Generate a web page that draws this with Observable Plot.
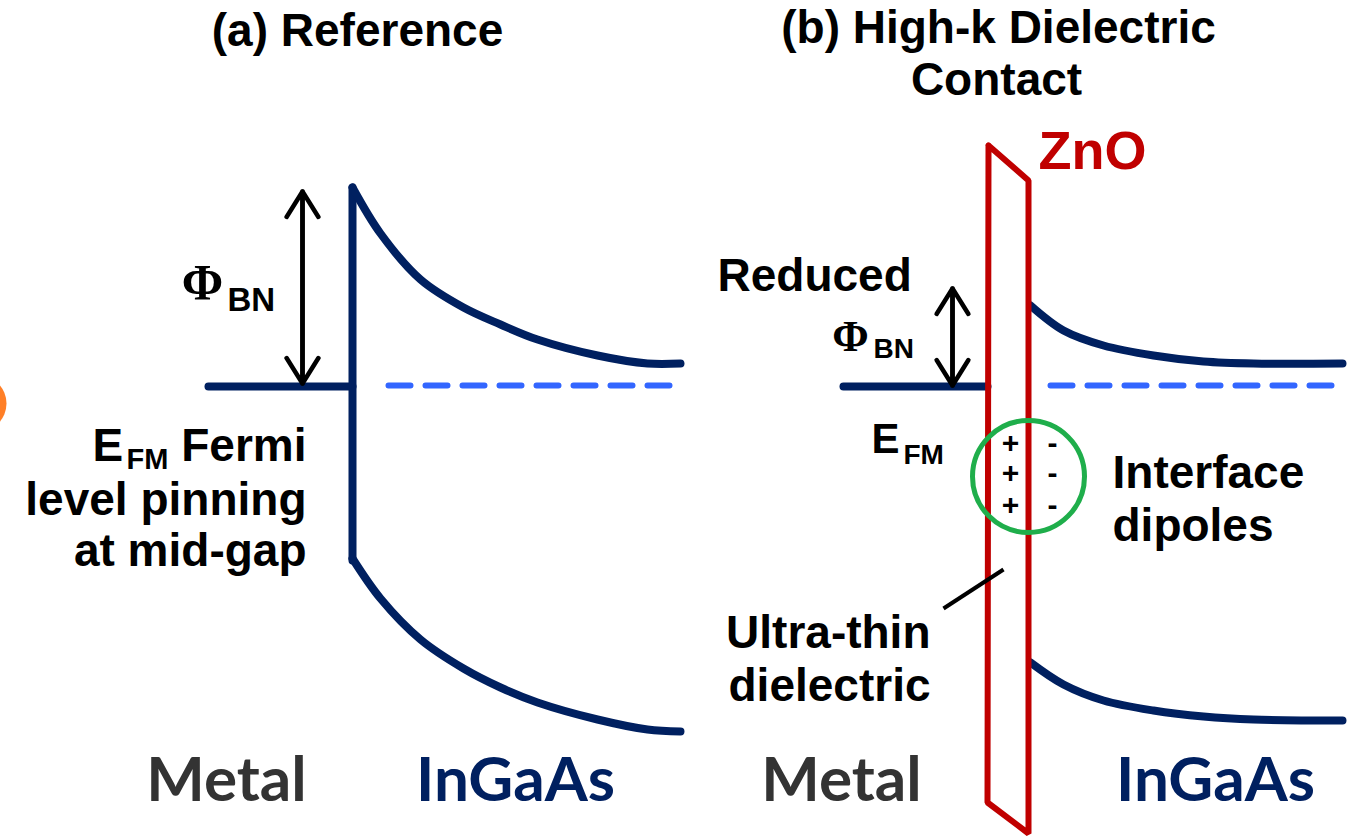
<!DOCTYPE html>
<html>
<head>
<meta charset="utf-8">
<script src="https://cdn.jsdelivr.net/npm/d3@7"></script>
<script src="https://cdn.jsdelivr.net/npm/@observablehq/plot@0.6"></script>
<style>
  html, body { margin: 0; padding: 0; background: #fff; overflow: hidden; }
</style>
</head>
<body>
<div id="chart"></div>
<script>
// Band-edge profiles: [position across the junction, energy (drawn downward)]
const refConduction = [[352,187],[380,233],[420,279],[463,307],[500,324],[537,339],[597,355],[647,363],[680,363]];
const refValence    = [[352,558],[380,598],[420,639],[463,668],[500,687],[537,702],[597,719],[647,729],[680,731]];
const refBarrier    = [[352,187],[352,560]];
const refMetalFermi = [[208,386],[352,386]];
const refSemiFermi  = [[388,385],[670,385]];

const hkConduction  = [[1030,305],[1063,330],[1103,345],[1153,355],[1203,361],[1253,363],[1342,363]];
const hkValence     = [[1030,662],[1063,684],[1103,700],[1153,710],[1203,716],[1253,719],[1342,720]];
const hkMetalFermi  = [[843,386],[987,386]];
const hkSemiFermi   = [[1050,385],[1334,385]];
// ZnO interlayer outline (closed)
const znoLayer      = [[988,145],[1028,180],[1028,833],[987,802],[988,145]];

// Barrier heights Φ_BN: [position, Fermi level, conduction-band top]
const barrierRef = [302, 383, 191];
const barrierHk  = [952, 385, 288];

// Text
const panelTitles  = ["(a) Reference", "(b) High-k Dielectric", "Contact"];
const materials    = ["Metal", "InGaAs", "Metal", "InGaAs"];
const pinningLines = ["Fermi", "level pinning", "at mid-gap"];
const dipoleLines  = ["Interface", "dipoles"];
const thinLines    = ["Ultra-thin", "dielectric"];
const charges      = ["+", "+", "+"];
const counterCharges = ["-", "-", "-"];

const NAVY = "#002060", DASH = "#3366ff", RED = "#c00000", GREEN = "#1fae4b";
const SANS = "Liberation Sans, Arial, sans-serif";
const SERIF = "Liberation Serif, Times New Roman, serif";
const LABEL = "Lato, Open Sans, sans-serif";

const band = (pts, opts = {}) => Plot.line(pts, {x: d => d[0], y: d => d[1], stroke: NAVY, strokeWidth: 8, curve: "catmull-rom", strokeLinejoin: "miter", ...opts});
const fermi = (pts) => Plot.line(pts, {x: d => d[0], y: d => d[1], stroke: DASH, strokeWidth: 6, strokeDasharray: "22,15"});
const txt = (arr, opts) => Plot.text(arr, {text: d => d, fontFamily: SANS, fontWeight: "bold", fontSize: 46, fill: "#000", lineAnchor: "bottom", ...opts});
const doubleArrow = ([x, y1, y2]) => [
  Plot.arrow([0], {x1: x, x2: x, y1: y1, y2: y2, stroke: "#000", strokeWidth: 4.5, headLength: 10, headAngle: 64}),
  Plot.arrow([0], {x1: x, x2: x, y1: y2, y2: y1, stroke: "#000", strokeWidth: 4.5, headLength: 10, headAngle: 64})
];

const chart = Plot.plot({
  width: 1363,
  height: 839,
  margin: 0,
  x: {domain: [0, 1363], range: [0, 1363], axis: null},
  y: {domain: [0, 839], range: [0, 839], axis: null},
  style: {background: "#fff", overflow: "hidden"},
  marks: [
    // edge marker
    Plot.dot([0], {x: -22, y: 403, r: 28, fill: "#ff7f27", stroke: "none"}),

    // (a) reference contact
    band(refMetalFermi, {curve: "linear"}),
    band(refBarrier, {curve: "linear"}),
    band(refConduction),
    band(refValence),
    fermi(refSemiFermi),
    ...doubleArrow(barrierRef),

    // (b) high-k dielectric contact
    band(hkMetalFermi, {curve: "linear"}),
    fermi(hkSemiFermi),
    band(hkConduction),
    band(hkValence),
    Plot.line(znoLayer, {x: d => d[0], y: d => d[1], stroke: RED, strokeWidth: 6, strokeLinejoin: "miter"}),
    ...doubleArrow(barrierHk),
    Plot.dot([0], {x: 1028, y: 476, r: 56, stroke: GREEN, strokeWidth: 5, fill: "none"}),
    Plot.link([0], {x1: 943, y1: 608, x2: 1003, y2: 569, stroke: "#000", strokeWidth: 4}),

    // titles
    txt(panelTitles, {x: [357, 998, 996], y: [45, 42, 94]}),

    // (a) labels
    Plot.text(["Φ"], {x: 202, y: 298, fontFamily: SERIF, fontWeight: "bold", fontSize: 50, fill: "#000", lineAnchor: "bottom"}),
    txt(["BN"], {x: 227, y: 310, fontSize: 33, textAnchor: "start"}),
    txt(["E"], {x: 92, y: 460, textAnchor: "start"}),
    txt(["FM"], {x: 126, y: 468, fontSize: 29, textAnchor: "start"}),
    txt(pinningLines, {x: 306, y: [460, 514, 565], textAnchor: "end"}),

    // (b) labels
    txt(["Reduced"], {x: 717, y: 290, textAnchor: "start"}),
    Plot.text(["Φ"], {x: 850, y: 350, fontFamily: SERIF, fontWeight: "bold", fontSize: 44, fill: "#000", lineAnchor: "bottom"}),
    txt(["BN"], {x: 873, y: 357, fontSize: 28, textAnchor: "start"}),
    txt(["E"], {x: 871, y: 452, fontSize: 42, textAnchor: "start"}),
    txt(["FM"], {x: 903, y: 463, fontSize: 28, textAnchor: "start"}),
    txt(["ZnO"], {x: 1038, y: 168, fontSize: 54, fill: RED, textAnchor: "start"}),
    txt(charges, {x: 1010, y: [443, 473, 505], fontSize: 30, lineAnchor: "middle"}),
    txt(counterCharges, {x: 1052, y: [443, 473, 505], fontSize: 30, lineAnchor: "middle"}),
    txt(dipoleLines, {x: 1112, y: [487, 540], textAnchor: "start"}),
    txt(thinLines, {x: 930, y: [647, 700], textAnchor: "end"}),

    // material names
    txt(materials, {x: [226, 515, 841, 1215], y: [800, 800, 800, 800], fontFamily: LABEL, fontSize: 62,
      fill: (d, i) => (i % 2 === 0 ? "#333333" : NAVY)})
  ]
});

document.getElementById("chart").appendChild(chart);
</script>
</body>
</html>
